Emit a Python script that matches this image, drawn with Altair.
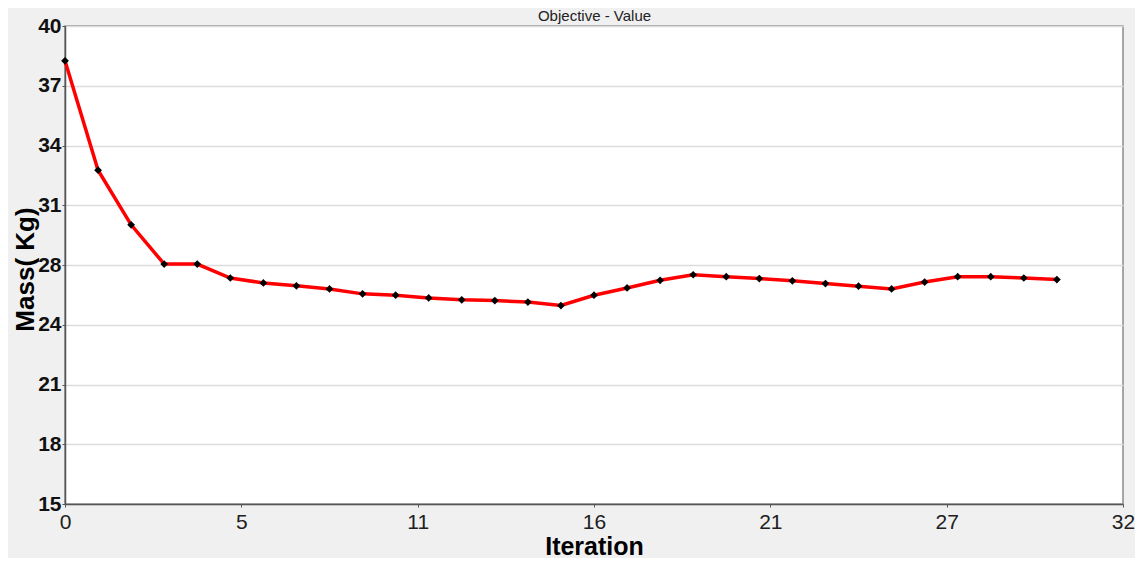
import altair as alt
import pandas as pd

iterations = list(range(31))
mass = [38.18, 32.46, 29.60, 27.55, 27.55, 26.82, 26.56, 26.41, 26.25, 25.99,
        25.92, 25.78, 25.68, 25.64, 25.56, 25.38, 25.92, 26.30, 26.70, 26.99,
        26.89, 26.79, 26.67, 26.53, 26.39, 26.25, 26.61, 26.89, 26.89, 26.82,
        26.74]

y_ticks = [15 + 25 / 8 * k for k in range(9)]
x_ticks = [32 / 6 * k for k in range(7)]

df = pd.DataFrame({"Iteration": iterations, "Mass": mass})

FONT = "Liberation Sans"
x_scale = alt.Scale(domain=[0, 32], nice=False, zero=False)

x_enc = alt.X(
    "Iteration:Q",
    scale=x_scale,
    axis=alt.Axis(
        title="Iteration",
        orient="bottom",
        values=x_ticks,
        labelExpr="format(datum.value, '.0f')",
        grid=False,
        tickSize=3,
        labelPadding=4,
        labelFontSize=21,
        labelFont=FONT,
        labelColor="#202020",
        labelFontWeight="normal",
        labelFlush=False,
        labelOverlap=False,
        titleFontSize=25,
        titleFont=FONT,
        titleFontWeight="bold",
        titleColor="#000000",
        titleBaseline="alphabetic",
        titleY=50,
        domainColor="#555555",
        domainWidth=1.5,
        tickColor="#555555",
    ),
)

x_top = alt.X(
    "Iteration:Q",
    scale=x_scale,
    axis=alt.Axis(
        title="Objective - Value",
        orient="top",
        labels=False,
        ticks=False,
        domain=False,
        grid=False,
        titleFontSize=15,
        titleFont=FONT,
        titleFontWeight="normal",
        titleColor="#222222",
        titleBaseline="alphabetic",
        titleAlign="center",
        titleX=529,
        titleY=-6,
    ),
)

y_enc = alt.Y(
    "Mass:Q",
    scale=alt.Scale(domain=[15, 40], nice=False, zero=False),
    axis=alt.Axis(
        title="Mass( Kg)",
        values=y_ticks,
        labelExpr="format(datum.value, '.0f')",
        grid=True,
        gridColor="#dcdcdc",
        gridWidth=1.5,
        tickSize=3,
        labelPadding=1,
        labelFontSize=21,
        labelFont=FONT,
        labelFontWeight="bold",
        labelColor="#111111",
        labelOverlap=False,
        labelFlush=False,
        titleFontSize=26,
        titleFont=FONT,
        titleFontWeight="bold",
        titleColor="#000000",
        titleAngle=270,
        titleBaseline="alphabetic",
        titleX=-32,
        titleY=243,
        titleAlign="center",
        domainColor="#555555",
        domainWidth=1.5,
        tickColor="#555555",
    ),
)

base = alt.Chart(df)

line = base.mark_line(color="#ff0000", strokeWidth=3.5).encode(x=x_enc, y=y_enc)
points = base.mark_point(shape="diamond", filled=True, color="#000000", size=60, opacity=1).encode(
    x=x_top, y=alt.Y("Mass:Q", scale=alt.Scale(domain=[15, 40], nice=False, zero=False))
)

chart = (
    alt.layer(line, points)
    .resolve_scale(x="independent")
    .resolve_axis(x="independent")
    .properties(
        width=1058,
        height=478,
        autosize=alt.AutoSizeParams(type="none"),
        padding={"left": 57, "top": 18, "right": 12, "bottom": 54},
        background="#f0f0f0",
    )
    .configure_view(fill="#ffffff", stroke="#8a8a8a", strokeWidth=1.5)
)

chart.save("out.html", embed_options={"renderer": "svg", "actions": False})
